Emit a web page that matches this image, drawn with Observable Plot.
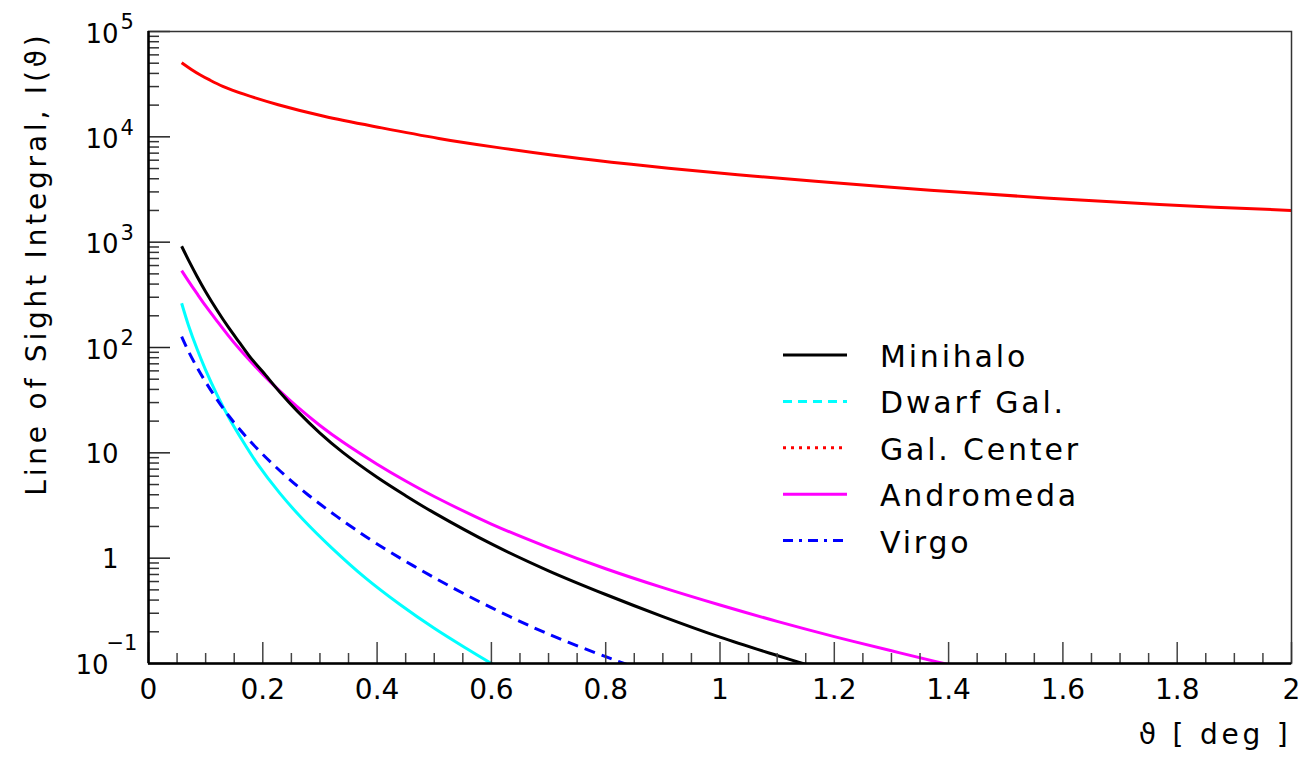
<!DOCTYPE html>
<html><head><meta charset="utf-8">
<script src="https://cdn.jsdelivr.net/npm/d3@7"></script>
<script src="https://cdn.jsdelivr.net/npm/@observablehq/plot@0.6"></script>
<style>
body{margin:0;background:#fff;}
#wrap{position:relative;width:1305px;height:758px;overflow:hidden;}
#wrap svg{position:absolute;left:0;top:0;font-family:"DejaVu Sans";}
</style>
</head><body><div id="wrap"></div>
<script>
// ---- data (theta in deg, line-of-sight integral) ----
const minihaloTheta = [0.058,0.07,0.085,0.1,0.12,0.14,0.16,0.18,0.2,0.23,0.26,0.3,0.34,0.4,0.45,0.5,0.6,0.7,0.8,0.9,1.0,1.1,1.16];
const minihaloI     = [914,676,473,339,226,155,110,78.5,58.9,37.6,25.0,15.4,10.1,5.86,3.92,2.69,1.365,0.759,0.452,0.279,0.178,0.119,0.0944];
const dwarfTheta = [0.058,0.07,0.085,0.1,0.12,0.14,0.16,0.19,0.23,0.27,0.32,0.38,0.44,0.5,0.56,0.6,0.63];
const dwarfI     = [263,162,96.6,61,35.5,21.9,14.3,7.94,4.12,2.34,1.26,0.646,0.363,0.216,0.135,0.1,0.0804];
const galCenterTheta = [0.058,0.075,0.09,0.107,0.13,0.167,0.227,0.307,0.408,0.508,0.609,0.709,0.81,0.91,1.031,1.167,1.368,1.569,1.769,2.0];
const galCenterI     = [50500,43650,38900,34670,30200,25410,20180,15670,12160,9660,7940,6680,5750,5040,4365,3784,3119,2630,2275,2000];
const andromedaTheta = [0.058,0.07,0.085,0.1,0.12,0.14,0.16,0.18,0.2,0.23,0.26,0.3,0.34,0.4,0.45,0.5,0.6,0.7,0.8,0.9,1.0,1.1,1.2,1.3,1.38,1.42];
const andromedaI     = [537,427,324,248,178,129,95.5,72.4,55.6,38.5,27.4,18.2,12.65,7.8,5.4,3.85,2.11,1.26,0.794,0.525,0.359,0.251,0.18,0.132,0.1035,0.0923];
const virgoTheta = [0.058,0.07,0.085,0.1,0.12,0.14,0.17,0.2,0.24,0.28,0.33,0.4,0.5,0.6,0.7,0.8,0.84,0.87];
const virgoI     = [127,92,64.6,47,32,22.6,14.4,9.66,6.03,3.96,2.48,1.365,0.653,0.339,0.19,0.116,0.0966,0.0841];

const seriesNames  = ["Minihalo","Dwarf Gal.","Gal. Center","Andromeda","Virgo"];
const seriesColors = ["#000000","#00ffff","#ff0000","#ff00ff","#0000ff"];
const plotDash     = [null,null,null,null,"11,7"];
const legendDash   = [null,"9,6","3,5",null,"10,6,3,6"];

const xMajor = [0,0.2,0.4,0.6,0.8,1,1.2,1.4,1.6,1.8,2];
const xMajorLabels = ["0","0.2","0.4","0.6","0.8","1","1.2","1.4","1.6","1.8","2"];
const xMinor = d3.range(0,41).map(i => i*0.05).filter(v => Math.abs(v*5 - Math.round(v*5)) > 1e-6);
const yMajor = [0.1,1,10,100,1e3,1e4,1e5];
const yMinor = [-1,0,1,2,3,4].flatMap(e => [2,3,4,5,6,7,8,9].map(m => m*Math.pow(10,e)));
const yExpTicks = [1e5,1e4,1e3,1e2];
const yExpLabels = ["5","4","3","2"];
const yPlainTicks = [10,1];
const yPlainLabels = ["10","1"];
const yNegTicks = [0.1];
const yNegLabels = ["\u22121"];

const thetas = [minihaloTheta,dwarfTheta,galCenterTheta,andromedaTheta,virgoTheta];
const values = [minihaloI,dwarfI,galCenterI,andromedaI,virgoI];
const rows = seriesNames.flatMap((s,k) => thetas[k].map((t,i) => ({series:s, theta:t, I:values[k][i]})));

const W = 1305, H = 758, mL = 148, mR = 14, mT = 31, mB = 95;
const fW = W - mL - mR, fH = H - mT - mB;
const drawOrder = [1,4,3,0,2];

const chart = Plot.plot({
  width: W, height: H,
  marginLeft: mL, marginRight: mR, marginTop: mT, marginBottom: mB,
  x: {domain: [0,2], axis: null},
  y: {type: "log", domain: [0.1,1e5], axis: null},
  style: {fontFamily: "DejaVu Sans", color: "#000", background: "#fff", overflow: "visible"},
  marks: [
    ...drawOrder.map(k => Plot.line(rows.filter(d => d.series === seriesNames[k]), {
      x: "theta", y: "I", stroke: seriesColors[k], strokeWidth: 3,
      strokeDasharray: plotDash[k] || undefined, strokeLinecap: "butt",
      curve: "catmull-rom", clip: true
    })),
    // ticks
    Plot.tickY(yMinor, {y: d => d, stroke: "#333", strokeWidth: 1.5, insetRight: fW - 11}),
    Plot.tickY(yMajor, {y: d => d, stroke: "#222", strokeWidth: 1.5, insetRight: fW - 22}),
    Plot.tickX(xMinor, {x: d => d, stroke: "#444", strokeWidth: 1.5, insetTop: fH - 10}),
    Plot.tickX(xMajor, {x: d => d, stroke: "#444", strokeWidth: 1.5, insetTop: fH - 21}),
    // frame
    Plot.frame({stroke: "#333", strokeWidth: 1.5}),
    Plot.ruleX([0], {stroke: "#000", strokeWidth: 2.5}),
    Plot.ruleY([0.1], {stroke: "#000", strokeWidth: 2.5}),
    // x tick labels
    Plot.text(xMajor, {x: d => d, text: (d,i) => xMajorLabels[i], frameAnchor: "bottom", dy: 27, fontSize: 28, lineAnchor: "middle"}),
    // y tick labels
    Plot.text(yExpTicks, {y: d => d, text: () => "10", frameAnchor: "left", textAnchor: "end", dx: -30, dy: 3, fontSize: 26, lineAnchor: "middle"}),
    Plot.text(yExpTicks, {y: d => d, text: (d,i) => yExpLabels[i], frameAnchor: "left", textAnchor: "start", dx: -28, dy: -9, fontSize: 21, lineAnchor: "middle"}),
    Plot.text(yPlainTicks, {y: d => d, text: (d,i) => yPlainLabels[i], frameAnchor: "left", textAnchor: "end", dx: -30, dy: 2, fontSize: 26, lineAnchor: "middle"}),
    Plot.text(yNegTicks, {y: d => d, text: () => "10", frameAnchor: "left", textAnchor: "end", dx: -40, dy: 2, fontSize: 26, lineAnchor: "middle"}),
    Plot.text(yNegTicks, {y: d => d, text: (d,i) => yNegLabels[i], frameAnchor: "left", textAnchor: "start", dx: -42, dy: -20, fontSize: 21, lineAnchor: "middle"}),
    // axis titles
    Plot.text(["Line of Sight Integral, I(\u03D1)"], {frameAnchor: "top-left", rotate: -90, textAnchor: "end", dx: -111, dy: 0, fontSize: 28, lineAnchor: "middle"}),
    Plot.text(["\u03D1 [ deg ]"], {frameAnchor: "bottom-right", textAnchor: "end", dy: 72, dx: 0, fontSize: 28, lineAnchor: "middle"})
  ]
});
document.getElementById("wrap").appendChild(chart);

// letter spacing for titles (ROOT font is wider)
d3.select(chart).selectAll("text").filter(function(){ return /[A-Za-z]/.test(this.textContent); })
  .style("letter-spacing", "3.8px");

// legend overlay
const lx1 = 783, lx2 = 847, ltx = 880, ly0 = 355, lstep = 46.4;
const leg = d3.select("#wrap").append("svg").attr("width", W).attr("height", H)
  .style("pointer-events", "none");
seriesNames.forEach((s,i) => {
  const y = ly0 + i*lstep;
  leg.append("line").attr("x1", lx1).attr("x2", lx2).attr("y1", y).attr("y2", y)
    .attr("stroke", seriesColors[i]).attr("stroke-width", 3)
    .attr("stroke-dasharray", legendDash[i]);
  leg.append("text").attr("x", ltx).attr("y", y + 12).text(s)
    .attr("font-size", 30).attr("fill", "#000").style("letter-spacing", "2.8px");
});
</script></body></html>
